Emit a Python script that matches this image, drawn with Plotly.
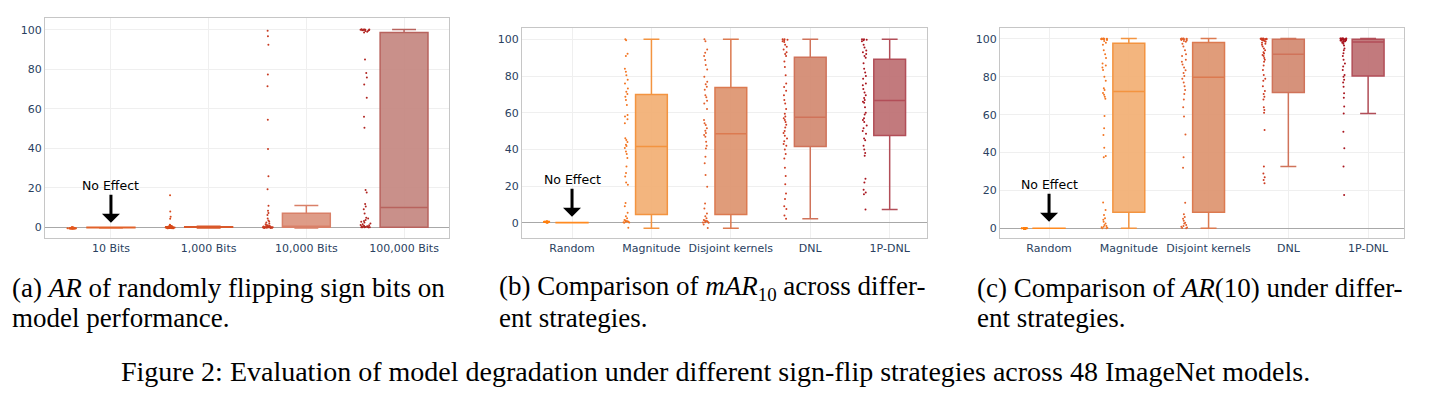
import plotly.graph_objects as go

# ---------------- data ----------------
# (a) AR of randomly flipping sign bits
a_categories = ["10 Bits", "1,000 Bits", "10,000 Bits", "100,000 Bits"]
a_10_bits = [-0.6, -0.5, -0.5, -0.4, -0.6, -0.3, -0.5, -0.4, -0.2, -0.5, -0.6, -0.4, -0.3, -0.5, -0.1, -0.4,
             -0.5, -0.6, -0.2, -0.3, -0.5, -0.4, -0.6, -0.5, 0.0, -0.3, -0.4, -0.5, -0.2, -0.6, -0.4, -0.3,
             -0.5, -0.1, -0.4, -0.5, -0.3, -0.6, -0.2, -0.4, -0.5, -0.3, -0.4, 0.1, -0.5, -0.2, -0.4, -0.3]
a_1000_bits = [16.2, 8.0, 5.3, 4.4, 1.3, 1.0, 0.8, 0.7, 0.6, 0.5, 0.5, 0.4, 0.4, 0.3, 0.3, 0.3,
               0.2, 0.2, 0.2, 0.2, 0.1, 0.1, 0.1, 0.1, 0.1, 0.1, 0.0, 0.0, 0.0, 0.0, 0.0, 0.0,
               -0.1, -0.1, -0.1, -0.1, -0.2, -0.2, -0.2, -0.2, -0.3, -0.3, -0.3, -0.3, -0.4, -0.4, -0.4, -0.5]
a_10000_bits = [99.6, 96.8, 92.4, 77.4, 71.5, 54.5, 39.7, 25.9, 19.3, 10.9, 8.4, 7.3, 6.2, 4.5, 3.5, 3.0,
                2.5, 2.0, 1.6, 1.2, 1.0, 0.8, 0.6, 0.5, 0.4, 0.3, 0.3, 0.2, 0.2, 0.2, 0.1, 0.1,
                0.1, 0.1, 0.0, 0.0, 0.0, 0.0, 0.0, 0.0, 0.0, -0.1, -0.1, -0.1, -0.2, -0.2, -0.3, -0.3]
a_100000_bits = [100.3, 100.2, 100.2, 100.1, 100.1, 100.0, 100.0, 99.9, 99.8, 99.6, 99.4, 99.0, 98.7, 85.0, 78.2, 75.9,
                 72.3, 65.6, 56.0, 50.4, 18.9, 17.7, 11.8, 10.5, 9.1, 7.0, 4.9, 4.5, 3.7, 3.2, 2.8, 2.5,
                 2.0, 1.6, 1.2, 1.0, 0.8, 0.6, 0.5, 0.4, 0.3, 0.2, 0.1, 0.1, 0.0, 0.0, 0.0, 0.0]
a_q1 = [-0.2, 0.0, 0.0, 0.0]
a_median = [-0.1, 0.1, 0.4, 10.1]
a_q3 = [0.0, 0.3, 7.1, 98.6]
a_lower = [-0.3, -0.3, -0.3, 0.0]
a_upper = [0.1, 0.6, 11.1, 100.2]

# (b) mAR10 across strategies
s_categories = ["Random", "Magnitude", "Disjoint kernels", "DNL", "1P-DNL"]
b_random = [0.5, 0.4, 0.6, 0.3, 0.5, 0.4, 0.5, 0.6, 0.3, 0.4, 0.5, 0.2, 0.4, 0.5, 0.6, 0.3,
            0.5, 0.4, 0.4, 0.5, 0.3, 0.6, 0.5, 0.4, 0.2, 0.5, 0.4, 0.3, 0.5, 0.6, 0.4, 0.5,
            0.3, 0.4, 0.5, 0.6, 0.4, 0.3, 0.5, 0.4, 0.2, 0.5, 0.6, 0.4, 0.3, 0.5, 0.4, 0.5]
b_magnitude = [100.0, 99.5, 92.2, 91.0, 84.0, 82.3, 80.5, 78.0, 76.0, 73.2, 71.5, 70.2, 68.7, 67.0, 64.2, 58.8,
               57.9, 56.5, 54.2, 46.1, 45.2, 44.0, 42.5, 41.8, 40.8, 38.9, 37.5, 35.3, 30.7, 27.1, 25.3, 22.0,
               20.8, 10.8, 9.0, 5.4, 3.6, 2.5, 1.5, 1.2, 0.9, 0.8, 0.6, 0.5, 0.3, 0.2, 0.0, -2.7]
b_disjoint = [100.0, 99.0, 94.5, 92.7, 91.0, 88.7, 86.0, 83.6, 79.6, 76.9, 75.5, 74.2, 72.5, 69.6, 68.4, 66.5,
              65.0, 62.0, 56.0, 54.2, 53.3, 51.5, 50.2, 49.0, 47.8, 46.9, 44.2, 42.0, 40.5, 36.0, 32.4, 26.0,
              19.6, 10.5, 7.8, 5.1, 3.5, 2.5, 1.5, 1.2, 1.0, 0.8, 0.5, 0.3, 0.1, 0.0, -1.0, -2.8]
b_dnl = [100.0, 100.0, 99.8, 99.5, 99.0, 98.5, 97.0, 96.0, 94.5, 93.0, 92.0, 91.0, 88.0, 85.0, 80.5, 76.0,
         74.0, 72.0, 69.5, 67.0, 65.0, 62.0, 59.5, 58.0, 57.0, 56.0, 55.0, 53.5, 52.0, 50.0, 49.0, 47.5,
         46.0, 44.5, 43.0, 42.0, 40.0, 37.5, 35.0, 30.0, 25.5, 21.0, 16.0, 13.0, 9.0, 7.5, 4.0, 2.2]
b_1p_dnl = [100.0, 100.0, 99.8, 99.5, 99.0, 97.0, 95.5, 94.0, 93.0, 92.0, 91.0, 90.0, 87.0, 84.0, 82.0, 80.0,
            78.5, 76.0, 75.0, 73.0, 71.0, 69.5, 68.0, 67.0, 66.0, 65.5, 63.0, 60.0, 59.0, 57.0, 56.0, 55.0,
            53.0, 51.5, 50.0, 48.5, 46.0, 45.0, 42.0, 40.0, 38.0, 36.5, 24.0, 22.0, 18.0, 16.5, 15.5, 7.3]
b_q1 = [0.0, 4.5, 4.5, 41.6, 47.6]
b_median = [0.05, 41.6, 48.5, 57.5, 66.7]
b_q3 = [0.1, 70.0, 73.8, 90.2, 89.1]
b_lower = [0.0, -3.0, -3.0, 2.2, 7.3]
b_upper = [0.2, 100.0, 100.0, 100.0, 100.0]

# (c) AR(10) across strategies
c_random = [0.1, 0.0, -0.1, 0.1, 0.0, 0.2, -0.1, 0.0, 0.1, 0.0, -0.2, 0.1, 0.0, 0.1, -0.1, 0.0,
            0.2, 0.0, -0.1, 0.1, 0.0, 0.1, 0.0, -0.1, 0.0, 0.1, 0.2, 0.0, -0.1, 0.0, 0.1, 0.0,
            -0.1, 0.1, 0.0, 0.0, 0.1, -0.2, 0.0, 0.1, 0.0, -0.1, 0.1, 0.0, 0.2, 0.0, -0.1, 0.0]
c_magnitude = [100.2, 100.2, 100.1, 100.1, 100.0, 100.0, 100.0, 99.9, 99.8, 99.5, 99.0, 98.0, 97.0, 94.0, 92.0, 90.0,
               87.0, 86.0, 85.0, 83.6, 80.0, 78.0, 74.0, 73.0, 71.5, 70.5, 69.5, 68.5, 59.3, 52.8, 49.3, 42.6,
               38.2, 37.5, 13.6, 9.7, 7.0, 5.3, 4.5, 3.5, 2.5, 1.8, 1.2, 0.9, 0.6, 0.3, 0.1, 0.0]
c_disjoint = [100.2, 100.2, 100.1, 100.1, 100.0, 100.0, 99.9, 99.8, 99.5, 99.2, 99.0, 98.5, 97.5, 96.0, 94.0, 92.0,
              91.0, 89.0, 88.0, 86.5, 85.0, 83.5, 82.0, 80.5, 79.0, 77.0, 75.0, 73.0, 71.0, 68.0, 64.0, 59.0,
              49.5, 37.5, 32.0, 13.5, 7.5, 6.0, 5.0, 4.0, 3.0, 2.5, 1.8, 1.2, 0.8, 0.5, 0.2, 0.0]
c_dnl = [100.2, 100.2, 100.1, 100.1, 100.1, 100.0, 100.0, 100.0, 100.0, 99.9, 99.9, 99.8, 99.5, 99.2, 99.0, 98.5,
         98.0, 97.5, 97.0, 96.0, 95.0, 94.0, 93.0, 92.3, 91.5, 91.0, 90.0, 89.0, 88.0, 86.0, 83.6, 81.0,
         79.0, 78.0, 75.0, 72.5, 71.0, 69.5, 68.0, 64.0, 62.5, 61.0, 52.0, 32.6, 29.0, 27.0, 25.5, 23.8]
c_1p_dnl = [100.3, 100.3, 100.2, 100.2, 100.2, 100.1, 100.1, 100.1, 100.0, 100.0, 100.0, 99.9, 99.8, 99.7, 99.6, 99.5,
            99.4, 99.3, 99.2, 99.1, 99.0, 98.8, 98.6, 98.5, 98.0, 97.5, 96.5, 95.0, 94.0, 92.4, 91.0, 89.0,
            87.0, 85.5, 83.6, 81.0, 80.0, 78.5, 77.0, 74.8, 71.3, 69.0, 64.3, 60.7, 51.0, 42.3, 32.6, 17.6]
c_q1 = [0.0, 8.5, 8.5, 71.7, 80.5]
c_median = [0.0, 72.2, 79.8, 92.0, 98.4]
c_q3 = [0.1, 97.7, 98.2, 99.8, 99.8]
c_lower = [0.0, 0.0, 0.0, 32.6, 60.7]
c_upper = [0.1, 100.2, 100.2, 100.2, 100.2]

# ---------------- styles ----------------
a_line_colors = ["#E2622A", "#D9582A", "#D98068", "#B8635E"]
a_fill_colors = ["rgba(226,98,42,0.6)", "rgba(217,88,42,0.6)", "rgba(218,145,123,0.9)", "rgba(195,132,125,0.9)"]
a_point_colors = ["#E4581E", "#D84A1A", "#C83A20", "#B02420"]
s_line_colors = ["#FF8A20", "#F39440", "#DC7A50", "#D0735A", "#B24E58"]
s_fill_colors = ["rgba(255,138,32,0.6)", "rgba(242,173,112,0.9)", "rgba(221,145,108,0.9)",
                 "rgba(209,134,109,0.9)", "rgba(187,107,111,0.9)"]
s_point_colors = ["#FF7F0E", "#F27522", "#E2602C", "#CC3A22", "#A8141E"]

FONT = "DejaVu Sans"
SERIF = "Liberation Serif"
W, H = 1430, 402

fig = go.Figure()


def add_panel(cats, series, q1, med, q3, lo, hi, lcols, fcols, pcols, xa, ya, width, pointpos):
    for i, cat in enumerate(cats):
        fig.add_trace(go.Box(
            x=[cat], q1=[q1[i]], median=[med[i]], q3=[q3[i]],
            lowerfence=[lo[i]], upperfence=[hi[i]],
            width=width, whiskerwidth=0.5, boxpoints=False,
            fillcolor=fcols[i], line=dict(color=lcols[i], width=1.5),
            xaxis=xa, yaxis=ya, showlegend=False, hoverinfo="skip"))
        vals = series[i]
        fig.add_trace(go.Box(
            x=[cat] * len(vals), y=vals, boxpoints="all", jitter=0.22, pointpos=pointpos,
            width=width, fillcolor="rgba(0,0,0,0)",
            line=dict(width=0, color="rgba(0,0,0,0)"),
            marker=dict(size=2, color=pcols[i]),
            xaxis=xa, yaxis=ya, showlegend=False, hoverinfo="skip"))


add_panel(a_categories, [a_10_bits, a_1000_bits, a_10000_bits, a_100000_bits],
          a_q1, a_median, a_q3, a_lower, a_upper,
          a_line_colors, a_fill_colors, a_point_colors, "x", "y", 0.49, -1.6)
add_panel(s_categories, [b_random, b_magnitude, b_disjoint, b_dnl, b_1p_dnl],
          b_q1, b_median, b_q3, b_lower, b_upper,
          s_line_colors, s_fill_colors, s_point_colors, "x2", "y2", 0.4, -1.57)
add_panel(s_categories, [c_random, c_magnitude, c_disjoint, c_dnl, c_1p_dnl],
          c_q1, c_median, c_q3, c_lower, c_upper,
          s_line_colors, s_fill_colors, s_point_colors, "x3", "y3", 0.4, -1.52)


def xax(dom, anchor, cats, rng):
    return dict(domain=[dom[0] / W, dom[1] / W], anchor=anchor, type="category",
                categoryorder="array", categoryarray=cats, range=rng,
                showgrid=True, gridcolor="#efefef", gridwidth=1,
                showline=True, mirror=True, linecolor="#c6c6c6", linewidth=1,
                ticks="", tickfont=dict(family=FONT, size=11, color="#2a3f5f"), zeroline=False)


def yax(top, bottom, anchor, rng):
    return dict(domain=[1 - bottom / H, 1 - top / H], anchor=anchor, range=rng,
                tick0=0, dtick=20, showgrid=True, gridcolor="#efefef", gridwidth=1,
                showline=True, mirror=True, linecolor="#c6c6c6", linewidth=1,
                zeroline=True, zerolinecolor="#a8a8a8", zerolinewidth=1,
                ticks="", tickfont=dict(family=FONT, size=11, color="#2a3f5f"))


fig.update_layout(
    width=W, height=H, margin=dict(l=0, r=0, t=0, b=0),
    paper_bgcolor="white", plot_bgcolor="white", showlegend=False,
    boxmode="overlay",
    font=dict(family=FONT, size=11, color="#2a3f5f"),
    xaxis=xax((45, 449), "y", a_categories, [-0.675, 3.46]),
    yaxis=yax(18, 238, "x", [-5.4, 106.0]),
    xaxis2=xax((522, 927), "y2", s_categories, [-0.63, 4.47]),
    yaxis2=yax(28, 238, "x2", [-8.3, 106.2]),
    xaxis3=xax((1000, 1404), "y3", s_categories, [-0.615, 4.45]),
    yaxis3=yax(28, 238, "x3", [-5.1, 105.8]),
)

# "No Effect" arrows
for xr, yr, cat, yv in [("x", "y", "10 Bits", 2.3), ("x2", "y2", "Random", 3.3), ("x3", "y3", "Random", 3.5)]:
    fig.add_annotation(x=cat, y=yv, xref=xr, yref=yr, text="No Effect", showarrow=True,
                       ax=0, ay=-37, arrowhead=1, arrowsize=1, arrowwidth=3, arrowcolor="black",
                       font=dict(family=FONT, size=12.5, color="black"))

# Captions
sub_font = dict(family=SERIF, size=27, color="black")
captions = [
    (10, 288, "(a) <i>AR</i> of randomly flipping sign bits on"),
    (10, 318, "model performance."),
    (497, 288, "(b) Comparison of <i>mAR</i><sub>10</sub> across differ-"),
    (497, 318, "ent strategies."),
    (975, 288, "(c) Comparison of <i>AR</i>(10) under differ-"),
    (975, 318, "ent strategies."),
]
for x, y, t in captions:
    fig.add_annotation(x=x / W, y=1 - y / H, xref="paper", yref="paper", text=t, showarrow=False,
                       xanchor="left", yanchor="middle", font=sub_font)
fig.add_annotation(x=0.5, y=1 - 371 / H, xref="paper", yref="paper",
                   text="Figure 2: Evaluation of model degradation under different sign-flip strategies across 48 ImageNet models.",
                   showarrow=False, xanchor="center", yanchor="middle",
                   font=dict(family=SERIF, size=28, color="black"))

fig.write_html("out.html")
